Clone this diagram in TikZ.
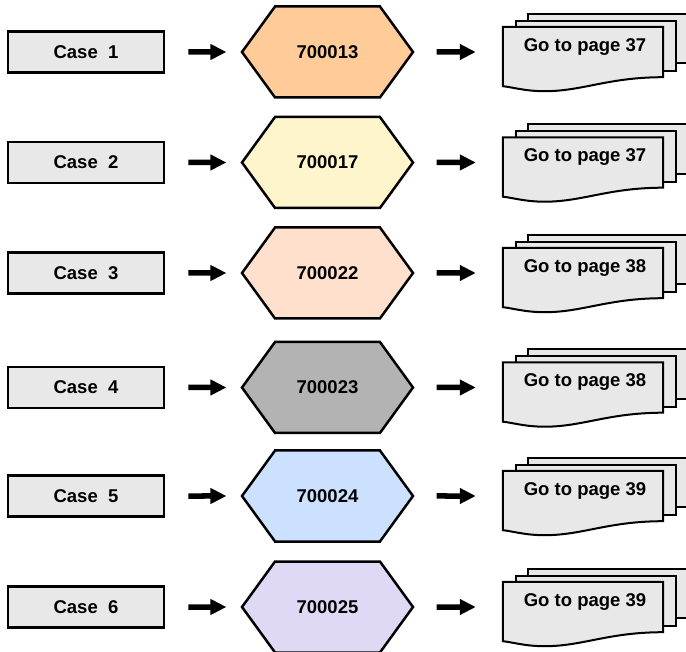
\documentclass[tikz,border=0pt]{standalone}
\usepackage{fontspec}
\setmainfont{Liberation Sans}
\usetikzlibrary{arrows.meta, shapes.symbols}

\definecolor{boxgray}{HTML}{E8E8E8}
\definecolor{hexorange}{HTML}{FFCC99}
\definecolor{hexyellow}{HTML}{FFF5CC}
\definecolor{hexpeach}{HTML}{FFE0CC}
\definecolor{hexgray}{HTML}{B3B3B3}
\definecolor{hexblue}{HTML}{CCE0FF}
\definecolor{hexlilac}{HTML}{E0D9F5}

\begin{document}
\begin{tikzpicture}[
    x=1pt, y=-1pt,
    font=\fontsize{18.5}{20}\selectfont\bfseries,
    casebox/.style={draw, line width=2.7pt, fill=boxgray,
        minimum width=156, minimum height=41, inner sep=0},
    hexa/.style={draw, line width=2.5pt, shape=signal,
        signal to=west and east, signal pointer angle=108,
        minimum width=171, minimum height=91, inner sep=0},
    pageframe/.style={minimum width=160, minimum height=50, inner sep=0},
    sheet/.style={draw, line width=2pt, fill=boxgray},
    fatarrow/.style={line width=5.5pt, -{Triangle[length=16pt, width=15pt]}},
]
    \useasboundingbox (0,0) rectangle (686,652);

    \foreach \i/\y/\code/\col/\pg in {
        1/52/700013/hexorange/37,
        2/162.5/700017/hexyellow/37,
        3/273/700022/hexpeach/38,
        4/387.5/700023/hexgray/38,
        5/496/700024/hexblue/39,
        6/607/700025/hexlilac/39%
    }{
        \node[casebox]         (case\i) at (86,\y)    {Case\ \ \i};
        \node[hexa, fill=\col] (hex\i)  at (327.5,\y) {\code};
        \node[pageframe]       (doc\i)  at (583,\y)   {};

        % stack of three sheets, the front one with a wavy bottom
        \draw[sheet] ([shift={(25,-13)}]doc\i.north west)
            rectangle ([shift={(26,-14)}]doc\i.south east);
        \draw[sheet] ([shift={(13,-6)}]doc\i.north west)
            rectangle ([shift={(13,-6)}]doc\i.south east);
        \draw[sheet] (doc\i.north west) -- (doc\i.north east)
            -- (doc\i.south east)
            .. controls ([shift={(-55,0)}]doc\i.south east)
                and ([shift={(80,14)}]doc\i.south west)
            .. ([shift={(42,14)}]doc\i.south west)
            .. controls ([shift={(22,14)}]doc\i.south west)
                and ([shift={(10,10)}]doc\i.south west)
            .. ([shift={(0,9)}]doc\i.south west) -- cycle;
        \node (go\i) at ([shift={(2,-5)}]doc\i.center) {Go to page \pg};

        \draw[fatarrow, shorten <=23pt, shorten >=14pt] (case\i) -- (hex\i);
        \draw[fatarrow, shorten <=22pt, shorten >=27pt] (hex\i) -- (doc\i.west);
    }
\end{tikzpicture}
\end{document}
